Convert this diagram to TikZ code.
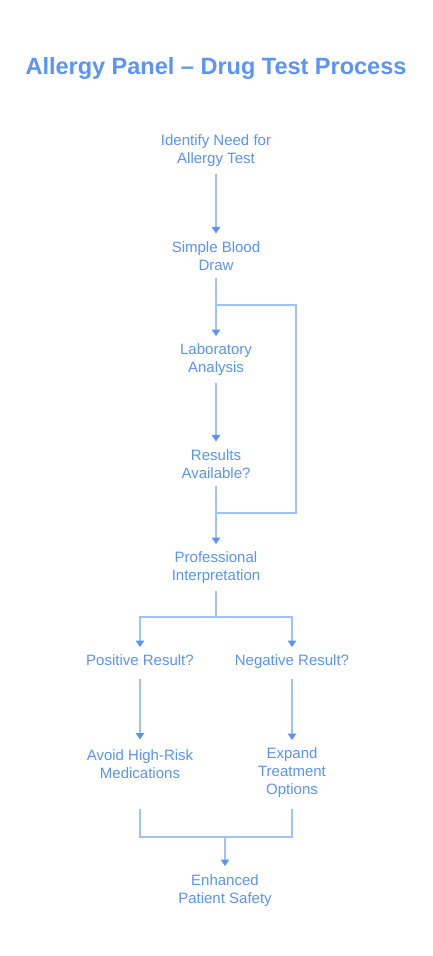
\documentclass[tikz,border=0pt]{standalone}
\usepackage{fontspec}
\setmainfont{Liberation Sans}
\usetikzlibrary{arrows.meta}
\definecolor{textblue}{HTML}{5B93F6}
\definecolor{lineblue}{HTML}{A0C2FA}

\begin{document}
\begin{tikzpicture}[x=1pt,y=1pt,
        step node/.style={text=textblue, align=center, inner sep=0pt, outer sep=0pt,
            font=\fontsize{15}{18}\selectfont},
        link/.style={lineblue, line width=1.2pt},
        flow/.style={link, -{Triangle[length=6.5pt,width=8.5pt,color=textblue]}}]
        \useasboundingbox (0,0) rectangle (432,-956);
        \node[text=textblue, font=\fontsize{23.5}{28}\selectfont\bfseries] (title) at (216,-68) {Allergy Panel -- Drug Test Process};

        \node[step node] (identify) at (216,-151) {Identify Need for\\Allergy Test};
        \node[step node] (blood) at (216,-256) {Simple Blood\\Draw};
        \node[step node] (lab) at (216,-360) {Laboratory\\Analysis};
        \node[step node] (results) at (216,-464) {Results\\Available?};
        \node[step node] (interp) at (216,-568) {Professional\\Interpretation};
        \node[step node, text depth=3pt] (pos) at (140,-662) {Positive Result?};
        \node[step node, text depth=3pt] (neg) at (292,-662) {Negative Result?};
        \node[step node] (avoid) at (140,-764) {Avoid High-Risk\\Medications};
        \node[step node] (expand) at (292,-773) {Expand\\Treatment\\Options};
        \node[step node] (safety) at (225,-891) {Enhanced\\Patient Safety};

        \coordinate (looptop) at (216,-305);
        \coordinate (loopbot) at (216,-513);
        \coordinate (split) at (216,-617);
        \coordinate (merge) at (225,-837);

        \draw[flow, shorten <=7pt, shorten >=8pt] (identify) -- (blood);
        \draw[flow, shorten <=7pt, shorten >=8pt] (blood) -- (lab);
        \draw[flow, shorten <=7pt, shorten >=8pt] (lab) -- (results);
        \draw[flow, shorten <=7pt, shorten >=8pt] (results) -- (interp);
        \draw[link] (loopbot) -- ++(80,0) |- (looptop);

        \draw[link, shorten <=7pt] (interp) -- (split);
        \draw[flow, shorten >=8pt] (split) -| (pos);
        \draw[flow, shorten >=8pt] (split) -| (neg);
        \draw[flow, shorten <=10pt, shorten >=10pt] (pos) -- (avoid);
        \draw[flow, shorten <=10pt, shorten >=8pt] (neg) -- (expand);

        \draw[link] (avoid.south |- expand.south) ++(0,-11) |- (merge);
        \draw[link, shorten <=11pt] (expand.south) |- (merge);
        \draw[flow, shorten >=9pt] (merge) -- (safety);
\end{tikzpicture}
\end{document}
